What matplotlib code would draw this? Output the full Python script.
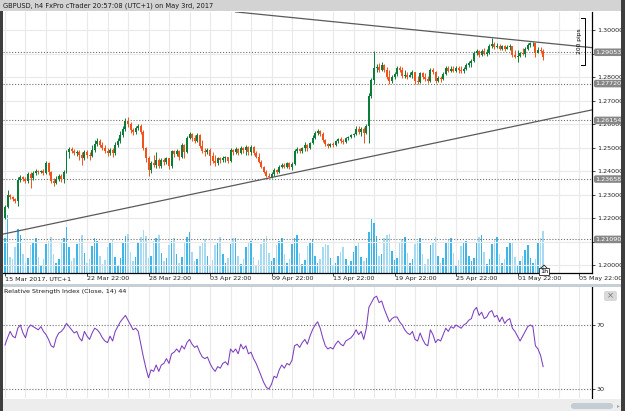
import matplotlib
matplotlib.use("Agg")
import matplotlib.pyplot as plt
import matplotlib.transforms as mtransforms
from matplotlib.patches import Rectangle, FancyBboxPatch
from matplotlib.lines import Line2D
import numpy as np

# ---------------- data ----------------
chart_title = "GBPUSD, h4 FxPro cTrader 20:57:08 (UTC+1) on May 3rd, 2017"
first_open = 1.2200
closes = [
    1.2247, 1.2298, 1.2289, 1.2281, 1.2272, 1.2362, 1.2375, 1.2366, 1.2358, 1.2387,
    1.2370, 1.2392, 1.2400, 1.2396, 1.2400, 1.2392, 1.2434, 1.2396, 1.2358, 1.2349,
    1.2366, 1.2379, 1.2366, 1.2396, 1.2481, 1.2494, 1.2485, 1.2477, 1.2481, 1.2468,
    1.2455, 1.2481, 1.2468, 1.2464, 1.2489, 1.2515, 1.2528, 1.2511, 1.2498, 1.2485,
    1.2477, 1.2489, 1.2477, 1.2511, 1.2528, 1.2553, 1.2579, 1.2613, 1.2600, 1.2574,
    1.2566, 1.2583, 1.2592, 1.2566, 1.2498, 1.2455, 1.2404, 1.2434, 1.2426, 1.2447,
    1.2421, 1.2447, 1.2438, 1.2455, 1.2421, 1.2485, 1.2472, 1.2485, 1.2460, 1.2511,
    1.2481, 1.2540, 1.2557, 1.2540, 1.2528, 1.2553, 1.2506, 1.2485, 1.2481, 1.2489,
    1.2464, 1.2443, 1.2434, 1.2455, 1.2447, 1.2455, 1.2460, 1.2443, 1.2489, 1.2481,
    1.2494, 1.2477, 1.2498, 1.2489, 1.2502, 1.2481, 1.2502, 1.2477, 1.2460, 1.2438,
    1.2417, 1.2396, 1.2379, 1.2375, 1.2387, 1.2404, 1.2396, 1.2417, 1.2426, 1.2417,
    1.2434, 1.2417, 1.2430, 1.2485, 1.2494, 1.2485, 1.2498, 1.2511, 1.2498, 1.2519,
    1.2540, 1.2562, 1.2570, 1.2557, 1.2532, 1.2515, 1.2506, 1.2515, 1.2511, 1.2528,
    1.2536, 1.2528, 1.2523, 1.2540, 1.2545, 1.2553, 1.2557, 1.2579, 1.2566, 1.2579,
    1.2562, 1.2592, 1.2719, 1.2787, 1.2838, 1.2843, 1.2830, 1.2851, 1.2830, 1.2800,
    1.2783, 1.2800, 1.2813, 1.2838, 1.2830, 1.2804, 1.2809, 1.2800, 1.2809, 1.2821,
    1.2783, 1.2779, 1.2817, 1.2800, 1.2791, 1.2783, 1.2830, 1.2821, 1.2783, 1.2796,
    1.2791, 1.2813, 1.2838, 1.2826, 1.2834, 1.2826, 1.2838, 1.2830, 1.2826, 1.2834,
    1.2851, 1.2860, 1.2868, 1.2902, 1.2910, 1.2894, 1.2910, 1.2898, 1.2902, 1.2932,
    1.2940, 1.2927, 1.2932, 1.2919, 1.2932, 1.2919, 1.2927, 1.2932, 1.2894, 1.2885,
    1.2889, 1.2902, 1.2898, 1.2919, 1.2936, 1.2944, 1.2946, 1.2902, 1.2915, 1.2910, 1.2885,
]
highs = [
    1.2255, 1.2319, 1.2302, 1.2294, 1.2285, 1.2375, 1.2383, 1.2379, 1.2375, 1.2396,
    1.2396, 1.2400, 1.2409, 1.2404, 1.2404, 1.2409, 1.2443, 1.2438, 1.2400, 1.2370,
    1.2379, 1.2387, 1.2387, 1.2404, 1.2489, 1.2502, 1.2502, 1.2494, 1.2489, 1.2489,
    1.2481, 1.2489, 1.2489, 1.2481, 1.2511, 1.2532, 1.2540, 1.2536, 1.2523, 1.2511,
    1.2498, 1.2498, 1.2498, 1.2523, 1.2540, 1.2570, 1.2592, 1.2626, 1.2630, 1.2609,
    1.2583, 1.2592, 1.2600, 1.2600, 1.2574, 1.2502, 1.2464, 1.2443, 1.2468, 1.2481,
    1.2455, 1.2455, 1.2455, 1.2460, 1.2455, 1.2489, 1.2489, 1.2494, 1.2489, 1.2519,
    1.2515, 1.2549, 1.2566, 1.2562, 1.2553, 1.2562, 1.2557, 1.2532, 1.2498, 1.2498,
    1.2498, 1.2481, 1.2468, 1.2460, 1.2460, 1.2464, 1.2464, 1.2460, 1.2498, 1.2494,
    1.2502, 1.2498, 1.2506, 1.2502, 1.2511, 1.2506, 1.2511, 1.2506, 1.2485, 1.2477,
    1.2447, 1.2421, 1.2404, 1.2392, 1.2396, 1.2413, 1.2409, 1.2426, 1.2434, 1.2434,
    1.2438, 1.2438, 1.2438, 1.2494, 1.2502, 1.2498, 1.2502, 1.2523, 1.2515, 1.2523,
    1.2553, 1.2570, 1.2579, 1.2574, 1.2566, 1.2536, 1.2519, 1.2519, 1.2523, 1.2532,
    1.2540, 1.2545, 1.2536, 1.2545, 1.2549, 1.2557, 1.2562, 1.2592, 1.2592, 1.2587,
    1.2587, 1.2600, 1.2732, 1.2796, 1.2910, 1.2855, 1.2860, 1.2864, 1.2855, 1.2843,
    1.2830, 1.2809, 1.2821, 1.2847, 1.2847, 1.2843, 1.2830, 1.2821, 1.2821, 1.2830,
    1.2821, 1.2804, 1.2821, 1.2821, 1.2817, 1.2804, 1.2838, 1.2838, 1.2826, 1.2804,
    1.2804, 1.2821, 1.2847, 1.2847, 1.2847, 1.2847, 1.2847, 1.2847, 1.2847, 1.2843,
    1.2860, 1.2868, 1.2877, 1.2910, 1.2919, 1.2915, 1.2919, 1.2923, 1.2919, 1.2940,
    1.2966, 1.2949, 1.2944, 1.2940, 1.2936, 1.2936, 1.2936, 1.2940, 1.2932, 1.2915,
    1.2915, 1.2906, 1.2923, 1.2927, 1.2944, 1.2949, 1.2949, 1.2949, 1.2927, 1.2927, 1.2919,
]
lows = [
    1.2196, 1.2243, 1.2281, 1.2272, 1.2264, 1.2251, 1.2353, 1.2358, 1.2349, 1.2349,
    1.2328, 1.2362, 1.2383, 1.2387, 1.2392, 1.2383, 1.2387, 1.2383, 1.2349, 1.2336,
    1.2345, 1.2358, 1.2353, 1.2349, 1.2392, 1.2455, 1.2477, 1.2468, 1.2464, 1.2447,
    1.2426, 1.2447, 1.2455, 1.2447, 1.2460, 1.2481, 1.2506, 1.2502, 1.2489, 1.2477,
    1.2464, 1.2468, 1.2460, 1.2468, 1.2502, 1.2519, 1.2545, 1.2570, 1.2587, 1.2562,
    1.2553, 1.2557, 1.2574, 1.2557, 1.2489, 1.2438, 1.2379, 1.2392, 1.2417, 1.2413,
    1.2413, 1.2413, 1.2426, 1.2430, 1.2409, 1.2413, 1.2460, 1.2464, 1.2447, 1.2455,
    1.2455, 1.2477, 1.2536, 1.2528, 1.2519, 1.2523, 1.2498, 1.2477, 1.2464, 1.2472,
    1.2426, 1.2434, 1.2421, 1.2426, 1.2434, 1.2438, 1.2438, 1.2434, 1.2438, 1.2468,
    1.2472, 1.2468, 1.2472, 1.2477, 1.2468, 1.2468, 1.2468, 1.2468, 1.2455, 1.2434,
    1.2413, 1.2392, 1.2375, 1.2370, 1.2370, 1.2379, 1.2387, 1.2392, 1.2413, 1.2413,
    1.2413, 1.2409, 1.2404, 1.2426, 1.2477, 1.2477, 1.2477, 1.2485, 1.2485, 1.2494,
    1.2515, 1.2536, 1.2553, 1.2549, 1.2523, 1.2506, 1.2498, 1.2502, 1.2502, 1.2506,
    1.2519, 1.2519, 1.2515, 1.2519, 1.2532, 1.2540, 1.2545, 1.2553, 1.2557, 1.2549,
    1.2519, 1.2557, 1.2519, 1.2711, 1.2770, 1.2821, 1.2821, 1.2826, 1.2821, 1.2791,
    1.2770, 1.2774, 1.2791, 1.2804, 1.2821, 1.2796, 1.2796, 1.2791, 1.2800, 1.2796,
    1.2770, 1.2770, 1.2774, 1.2791, 1.2783, 1.2774, 1.2779, 1.2813, 1.2774, 1.2779,
    1.2779, 1.2787, 1.2809, 1.2821, 1.2821, 1.2821, 1.2821, 1.2817, 1.2817, 1.2817,
    1.2830, 1.2843, 1.2843, 1.2864, 1.2894, 1.2885, 1.2889, 1.2894, 1.2889, 1.2898,
    1.2923, 1.2919, 1.2923, 1.2915, 1.2915, 1.2910, 1.2919, 1.2915, 1.2885, 1.2881,
    1.2864, 1.2885, 1.2894, 1.2885, 1.2915, 1.2927, 1.2932, 1.2885, 1.2902, 1.2902, 1.2872,
]
volumes = [
    3000, 5000,
    1400, 1200, 2200, 3800, 3300, 1600,
    900, 1300, 2400, 2700, 3000, 1400,
    700, 1200, 2500, 2800, 3100, 1600,
    900, 1200, 2600, 3000, 4000, 2200,
    1000, 1300, 2500, 2900, 3300, 1700,
    900, 1200, 2300, 3000, 2800, 1500,
    800, 1100, 2200, 2700, 2900, 1400,
    700, 1300, 2600, 3200, 3400, 1800,
    1000, 1400, 2700, 3100, 3700, 3200,
    1300, 1500, 2800, 3000, 3300, 1700,
    1000, 1300, 2400, 2800, 3000, 1600,
    900, 1400, 2600, 3100, 3500, 1800,
    1000, 1200, 2300, 2700, 2900, 1500,
    700, 1100, 2400, 2600, 3100, 1600,
    900, 1300, 2500, 3000, 3000, 1500,
    800, 1200, 2200, 2600, 2800, 1400,
    700, 1100, 2500, 2900, 3200, 1700,
    1000, 1300, 2400, 2800, 3000, 1600,
    900, 1200, 2500, 3000, 3300, 1700,
    800, 1100, 2300, 2700, 2900, 1500,
    900, 1200, 2200, 2500, 2400, 1300,
    600, 900, 1500, 1800, 2200, 1200,
    700, 1000, 1800, 2300, 2600, 1400,
    1000, 1300, 3500, 4700, 4300, 3200,
    1500, 1600, 3000, 3300, 3400, 1900,
    1100, 1300, 2600, 2900, 3100, 1700,
    900, 1200, 2500, 2800, 3000, 1600,
    800, 1200, 2400, 2700, 3100, 1500,
    900, 1300, 2600, 2900, 3000, 1700,
    700, 1100, 2300, 2600, 2800, 1500,
    1000, 1300, 2700, 3100, 3300, 1800,
    800, 1200, 2500, 2900, 3100, 1600,
    900, 1200, 2200, 2600, 2700, 1400,
    700, 1000, 1500, 2000, 2400, 1300,
    900, 1200, 2600, 3000, 3600,
]
rsi_values = [
    57.5, 62, 66, 63, 62, 68, 70, 65, 62, 68,
    70, 69, 68, 67, 69, 66, 64, 61, 57, 56,
    62, 65, 66, 68, 71, 69, 67, 65, 66, 62,
    60, 66, 63, 61, 65, 68, 67, 65, 62, 60,
    59, 63, 60, 66, 69, 72, 74, 76, 73, 70,
    67, 68, 66, 58, 50, 43, 37, 42, 41, 45,
    41, 45, 46, 49, 46, 52, 53, 55, 53, 57,
    55, 59, 61, 58, 56, 57, 53, 50, 49, 50,
    46, 43, 41, 44, 43, 46, 47, 45, 55, 53,
    55, 52, 58, 55, 57, 52, 53, 49, 46, 42,
    38, 34, 31, 30, 33, 38, 37, 42, 45, 43,
    46, 45, 48, 57, 58, 56, 59, 61, 58, 63,
    67, 70, 72, 68, 62, 57, 55, 56, 55, 58,
    60, 58, 57, 60, 61, 62, 64, 67, 64, 66,
    61, 68, 81, 84, 87, 88, 84, 85, 80, 76,
    72, 74, 75, 75, 72, 70, 67, 65, 64, 66,
    61, 60, 65, 61, 58, 57, 67, 64, 59, 61,
    60, 64, 68, 66, 69, 68, 70, 69, 68, 70,
    71, 73, 74, 79, 81, 76, 78, 74, 75, 78,
    79, 75, 76, 72, 75, 71, 73, 74, 68, 66,
    63, 60, 63, 66, 69, 70, 69, 57, 55, 51, 44,
]
rsi_title = "Relative Strength Index (Close, 14) 44"
date_tick_bars = [0, 32, 56, 80, 104, 128, 152, 176, 200, 224]
date_tick_labels = ["15 Mar 2017, UTC+1", "22 Mar 22:00", "28 Mar 22:00", "03 Apr 22:00",
                    "09 Apr 22:00", "13 Apr 22:00", "19 Apr 22:00", "25 Apr 22:00",
                    "01 May 22:00", "05 May 22:00"]
price_ticks = [1.20, 1.21, 1.22, 1.23, 1.24, 1.25, 1.26, 1.27, 1.28, 1.29, 1.30]
hline_levels = [1.29053, 1.27720, 1.26154, 1.23658, 1.21090]
upper_trend_bars = [90, 229]
upper_trend_prices = [1.3077, 1.2925]
lower_trend_bars = [-1, 229]
lower_trend_prices = [1.2131, 1.2660]
pips_bracket_bar = 226.2
pips_bracket_prices = [1.2851, 1.3051]
pips_label = "200 pips"
rsi_levels = [70, 30]
timeframe_tag = "1h"

assert len(closes) == len(highs) == len(lows) == len(volumes) == len(rsi_values) == 211

# ---------------- figure ----------------
W, H = 625, 411
fig = plt.figure(figsize=(W / 100, H / 100), dpi=100)
fig.patch.set_facecolor("white")
FS = 4.6
UP, DOWN = "#0b7d38", "#f2531c"
VUP, VDOWN = "#3fb6e9", "#a6daf3"
GRID = "#e9e9e9"
DOT = "#707070"


def rect(x0, y0, x1, y1):
    return [x0 / W, 1 - y1 / H, (x1 - x0) / W, (y1 - y0) / H]


def fig_box(x0, y0, x1, y1, color, z=0):
    fig.add_artist(Rectangle((x0 / W, 1 - y1 / H), (x1 - x0) / W, (y1 - y0) / H,
                             transform=fig.transFigure, facecolor=color,
                             edgecolor="none", zorder=z))


n = len(closes)
idx = np.arange(n)
c = np.array(closes)
hi = np.array(highs)
lo = np.array(lows)
o = np.concatenate([[first_open], c[:-1]])
up = c >= o
XL = (-0.78, 229.07)

# main price panel
ax = fig.add_axes(rect(3, 12, 592, 273))
axv = ax.twinx()
ax.set_zorder(axv.get_zorder() + 1)
ax.patch.set_visible(False)

ax.set_xlim(*XL)
ax.set_ylim(1.19660, 1.30766)
axv.set_ylim(0, 22500)

for k in range(0, 232, 8):
    axv.axvline(k, color=GRID, lw=0.8, zorder=0)
for p in price_ticks:
    ax.axhline(p, color=GRID, lw=0.8, zorder=0)

axv.bar(idx, volumes, width=0.6, color=np.where(up, VUP, VDOWN), lw=0, zorder=1)
axv.set_axis_off()

for lvl in hline_levels:
    ax.axhline(lvl, color=DOT, lw=0.8, ls=(0, (1, 1.6)), zorder=1.5)

ax.plot(upper_trend_bars, upper_trend_prices, color="#5a5a5a", lw=0.9, zorder=2)
ax.plot(lower_trend_bars, lower_trend_prices, color="#5a5a5a", lw=0.9, zorder=2)

cols = np.where(up, UP, DOWN)
ax.vlines(idx, lo, hi, colors=cols, lw=0.7, zorder=3)
body_bottom = np.minimum(o, c)
body_h = np.maximum(np.abs(c - o), 0.00012)
ax.bar(idx, body_h, bottom=body_bottom, width=0.78, color=cols, lw=0, zorder=4)

# 200 pips bracket
b0, b1 = pips_bracket_prices
xb = pips_bracket_bar
ax.plot([xb - 1.3, xb, xb, xb - 1.3], [b0, b0, b1, b1], color="black", lw=0.7,
        zorder=5, clip_on=False)
ax.text(xb - 2.0, (b0 + b1) / 2, pips_label, rotation=90, fontsize=FS - 0.3,
        ha="center", va="center", zorder=5)

# axes styling
for s in ("left", "top"):
    ax.spines[s].set_visible(False)
for s in ("right", "bottom"):
    ax.spines[s].set_color("black")
    ax.spines[s].set_linewidth(0.9)
ax.yaxis.tick_right()
ax.set_yticks(price_ticks)
# tick labels covered by a boxed line label are not shown (as in the terminal)
ax.set_yticklabels(["" if min(abs(p - l) for l in hline_levels) < 0.0012 else f"{p:.5f}"
                    for p in price_ticks])
ax.tick_params(axis="y", length=2, width=0.6, pad=1.5, labelsize=FS, colors="#222222")
ax.set_xticks(date_tick_bars)
ax.set_xticklabels(date_tick_labels, ha="left")
ax.tick_params(axis="x", length=2, width=0.6, pad=0.5, labelsize=FS, colors="#222222")

trans = mtransforms.blended_transform_factory(ax.transAxes, ax.transData)
for lvl in hline_levels:
    ax.text(1.0055, lvl, f"{lvl:.5f}", transform=trans, fontsize=FS, color="white",
            ha="left", va="center", zorder=10, clip_on=False,
            bbox=dict(boxstyle="round,pad=0.2,rounding_size=0.3", fc="#878787", ec="none"))

# RSI panel
ax2 = fig.add_axes(rect(3, 287, 592, 398))
ax2.set_xlim(*XL)
ax2.set_ylim(24.375, 93.75)
for k in range(0, 232, 8):
    ax2.axvline(k, color=GRID, lw=0.8, zorder=0)
for lv in rsi_levels:
    ax2.axhline(lv, color=DOT, lw=0.8, ls=(0, (1, 1.6)), zorder=1)
ax2.plot(idx, rsi_values, color="#7c3fbf", lw=0.75, zorder=3)
for s in ("left", "top", "bottom"):
    ax2.spines[s].set_visible(False)
ax2.spines["right"].set_color("black")
ax2.spines["right"].set_linewidth(0.9)
ax2.set_xticks([])
ax2.yaxis.tick_right()
ax2.set_yticks(rsi_levels)
ax2.set_yticklabels([str(v) for v in rsi_levels])
ax2.tick_params(axis="y", length=2, width=0.6, pad=1.5, labelsize=FS, colors="#222222")

# ---------------- frame decorations ----------------
fig_box(0, 0, 621, 11, "#d3d3d3", z=5)
fig_box(0, 11, 3, 411, "#3e3e3e", z=5)
fig_box(621, 0, 625, 411, "#3e3e3e", z=5)
fig_box(3, 284, 621, 287, "#c6ced6", z=5)
fig_box(3, 399, 621, 411, "#ededed", z=5)
fig.add_artist(FancyBboxPatch((571 / W, 1 - 409 / H), 42 / W, 6 / H,
                              boxstyle="round,pad=0,rounding_size=0.006",
                              transform=fig.transFigure, fc="#c4ccd4", ec="none", zorder=6))
fig.text(618 / W, 1 - 405.5 / H, "\u25b8", fontsize=4, color="#9aa4ae", ha="center",
         va="center", zorder=7)

fig.text(3 / W, 1 - 5.8 / H, chart_title, fontsize=FS + 0.2, color="#1a1a1a",
         ha="left", va="center", zorder=7)
fig.text(4 / W, 1 - 291.5 / H, rsi_title, fontsize=FS, color="#1a1a1a",
         ha="left", va="center", zorder=7)

# close button of RSI panel
fig.add_artist(FancyBboxPatch((604 / W, 1 - 301 / H), 13 / W, 10 / H,
                              boxstyle="round,pad=0,rounding_size=0.004",
                              transform=fig.transFigure, fc="#d9d9d9", ec="none", zorder=6))
fig.text(610.5 / W, 1 - 296 / H, "\u00d7", fontsize=6, color="#777777", ha="center",
         va="center", zorder=7)

# timeframe tag
fig.text(544 / W, 1 - 271.3 / H, timeframe_tag, fontsize=FS, color="black", ha="center",
         va="center", zorder=8,
         bbox=dict(boxstyle="square,pad=0.15", fc="white", ec="black", lw=0.5))
fig.add_artist(Line2D([541 / W, 544 / W, 547 / W], [1 - 268 / H, 1 - 265 / H, 1 - 268 / H],
                      transform=fig.transFigure, color="black", lw=0.5, zorder=8))

fig.savefig("out.png", dpi=100)
